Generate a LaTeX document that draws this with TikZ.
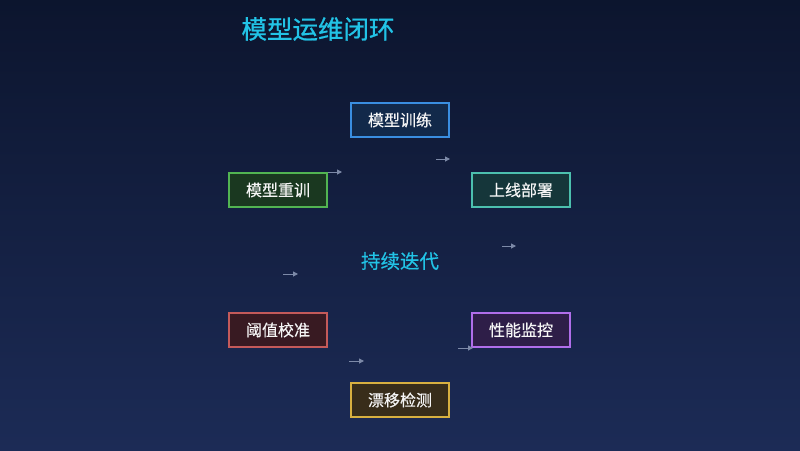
\documentclass[tikz,border=0pt]{standalone}
\usepackage{fontspec}
\setmainfont{Noto Sans CJK SC}
\newfontfamily\semibold[FakeBold=0.9]{Noto Sans CJK SC}
\newfontfamily\lightbold[FakeBold=0.4]{Noto Sans CJK SC}
\usetikzlibrary{arrows.meta}
\definecolor{bgtop}{HTML}{0C152E}
\definecolor{bgbot}{HTML}{1C2B56}
\definecolor{titlec}{HTML}{22C3E6}
\definecolor{arrc}{HTML}{7D8AA8}
\definecolor{bB}{HTML}{3A8EE0}\definecolor{fB}{HTML}{12294A}
\definecolor{bT}{HTML}{4CC0AE}\definecolor{fT}{HTML}{15363A}
\definecolor{bP}{HTML}{B06EEA}\definecolor{fP}{HTML}{2E1E48}
\definecolor{bY}{HTML}{D8B040}\definecolor{fY}{HTML}{382D1A}
\definecolor{bR}{HTML}{C45A5A}\definecolor{fR}{HTML}{381A22}
\definecolor{bG}{HTML}{52B452}\definecolor{fG}{HTML}{1A3820}
\tikzset{
  x=1pt,y=-1pt,
  stagebox/.style={draw=#1, line width=1.8pt, minimum width=98.4pt, minimum height=34.4pt,
    inner sep=0pt, text=white!92!gray, font=\lightbold\fontsize{16}{16}\selectfont},
  tinyarrow/.style={draw=arrc, line width=1pt, -{Triangle[length=5pt,width=5pt]}}
}
\begin{document}
\begin{tikzpicture}
\useasboundingbox (0,0) rectangle (800,450);
\shade[top color=bgtop, bottom color=bgbot] (0,0) rectangle (800,450);
\node[text=titlec, font=\semibold\fontsize{25.5}{26}\selectfont] (title) at (318,29) {模型运维闭环};
\node[stagebox=bB, fill=fB] (train) at (400,120) {模型训练};
\node[stagebox=bT, fill=fT] (deploy) at (521,190) {上线部署};
\node[stagebox=bP, fill=fP] (monitor) at (521,330) {性能监控};
\node[stagebox=bY, fill=fY] (drift) at (400,400) {漂移检测};
\node[stagebox=bR, fill=fR] (calib) at (278,330) {阈值校准};
\node[stagebox=bG, fill=fG] (retrain) at (278,190) {模型重训};
\node[text=titlec, font=\lightbold\fontsize{19.5}{20}\selectfont] (center) at (400,261) {持续迭代};
\coordinate (a1s) at (328,172); \coordinate (a1e) at (342,172);
\coordinate (a2s) at (436,159); \coordinate (a2e) at (450,159);
\coordinate (a3s) at (502,246); \coordinate (a3e) at (516,246);
\coordinate (a4s) at (283,274); \coordinate (a4e) at (298,274);
\coordinate (a5s) at (458,348); \coordinate (a5e) at (473,348);
\coordinate (a6s) at (349,361); \coordinate (a6e) at (364,361);
\draw[tinyarrow] (a1s) -- (a1e);
\draw[tinyarrow] (a2s) -- (a2e);
\draw[tinyarrow] (a3s) -- (a3e);
\draw[tinyarrow] (a4s) -- (a4e);
\draw[tinyarrow] (a5s) -- (a5e);
\draw[tinyarrow] (a6s) -- (a6e);
\end{tikzpicture}
\end{document}
